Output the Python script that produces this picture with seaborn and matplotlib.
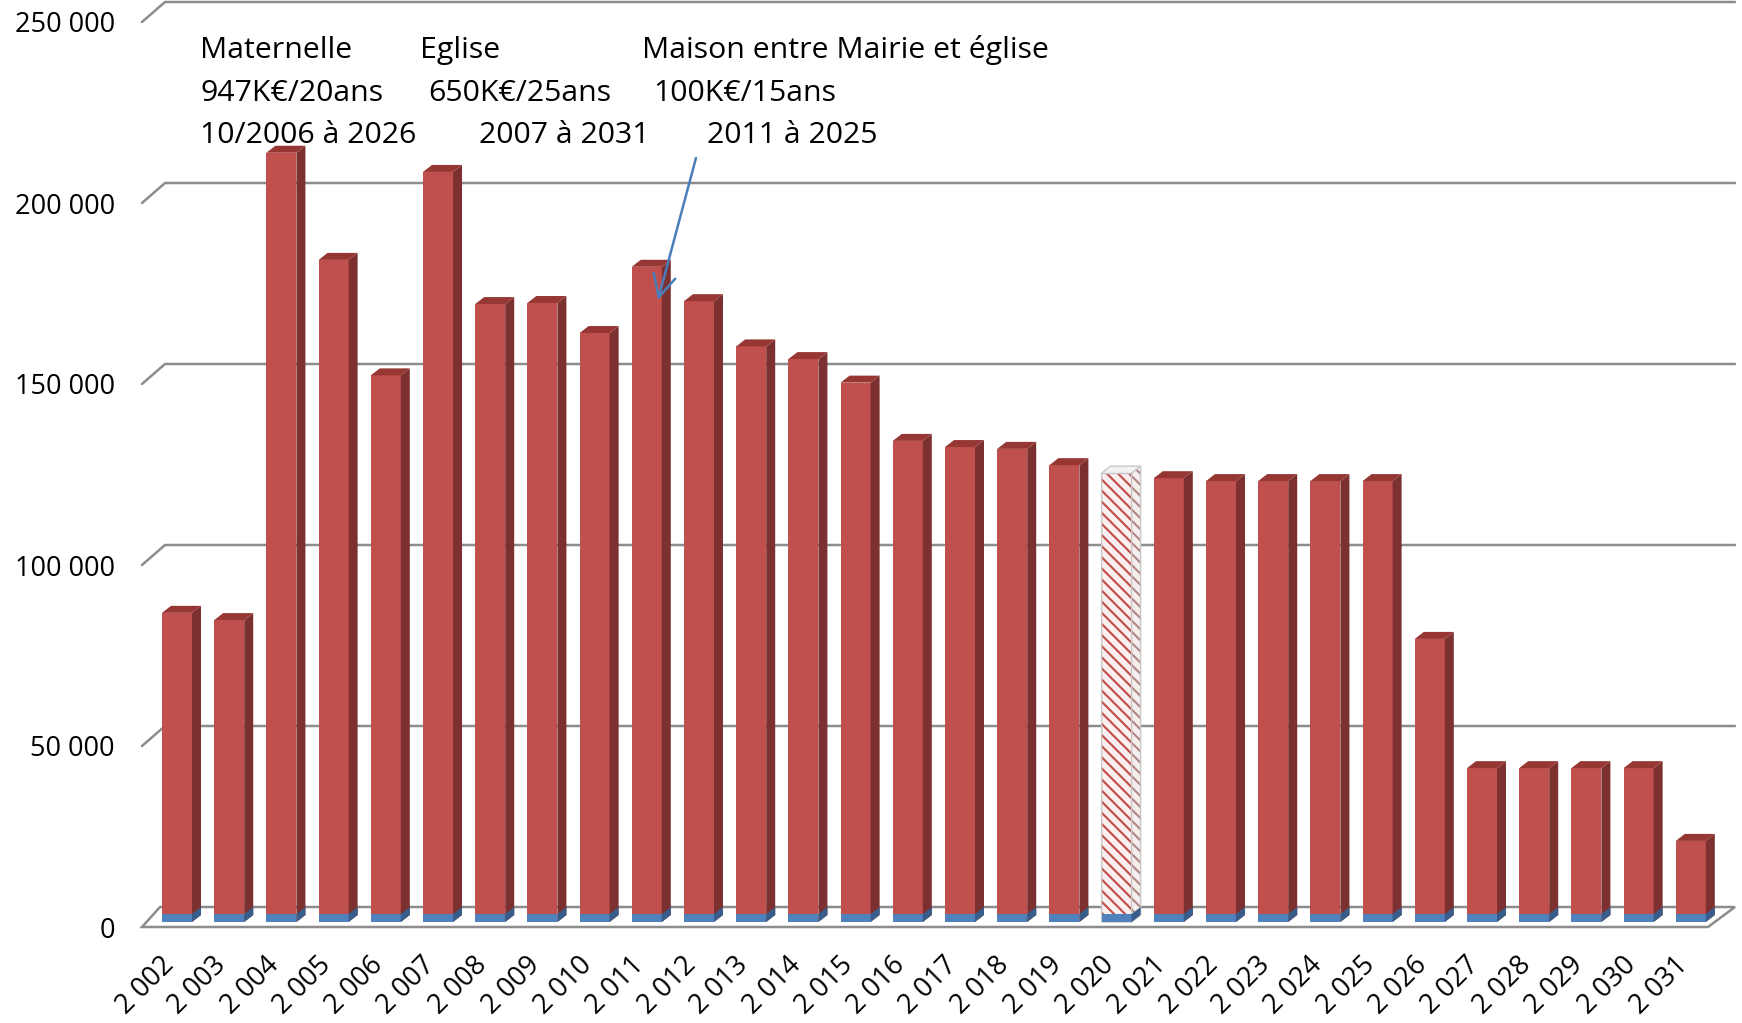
import matplotlib
matplotlib.use("Agg")
import matplotlib.pyplot as plt
import seaborn as sns
import pandas as pd
from matplotlib.patches import Polygon
from matplotlib.lines import Line2D
from matplotlib.transforms import IdentityTransform, ScaledTranslation

# ---------------- data ----------------
year_labels = ["2 002", "2 003", "2 004", "2 005", "2 006", "2 007", "2 008", "2 009", "2 010", "2 011",
               "2 012", "2 013", "2 014", "2 015", "2 016", "2 017", "2 018", "2 019", "2 020", "2 021",
               "2 022", "2 023", "2 024", "2 025", "2 026", "2 027", "2 028", "2 029", "2 030", "2 031"]
total_values = [85400, 83400, 212500, 182900, 151000, 207200, 170700, 171000, 162700, 181000,
                171500, 159000, 155500, 149000, 132900, 131200, 130700, 126200, 124000, 122600,
                121800, 121800, 121800, 121800, 78200, 42500, 42500, 42500, 42500, 22400]
base_values = [2200, 2200, 2200, 2200, 2200, 2200, 2200, 2200, 2200, 2200,
               2200, 2200, 2200, 2200, 2200, 2200, 2200, 2200, 2200, 2200,
               2200, 2200, 2200, 2200, 2200, 2200, 2200, 2200, 2200, 2200]
highlight_label = "2 020"
y_ticks = [0, 50000, 100000, 150000, 200000, 250000]
y_tick_labels = ["0", "50 000", "100 000", "150 000", "200 000", "250 000"]

note_line1 = ["Maternelle", "Eglise", "Maison entre Mairie et église"]
note_line2 = ["947K€/20ans", "650K€/25ans", "100K€/15ans"]
note_line3 = ["10/2006 à 2026", "2007 à 2031", "2011 à 2025"]

# ---------------- style ----------------
RED = "#C0504D"
RED_SIDE = "#7D3030"
RED_TOP = "#963734"
BLUE = "#4F81BD"
BLUE_SIDE = "#385D8A"
GRID = "#8C8C8C"

sns.set_theme(style="white")
plt.rcParams["font.family"] = ["Open Sans", "DejaVu Sans"]
plt.rcParams["hatch.linewidth"] = 1.5

W, H = 1742, 1023
fig = plt.figure(figsize=(W / 100, H / 100), dpi=100)
fig.patch.set_facecolor("white")

L, R, B, T = 130, 1742, 922, 17
ax = fig.add_axes([L / W, (H - B) / H, (R - L) / W, (B - T) / H])
ax.set_facecolor("none")

df = pd.DataFrame({"year": year_labels, "total": total_values, "base": base_values})
sns.barplot(data=df, x="year", y="total", color=RED, saturation=1, width=0.575,
            errorbar=None, linewidth=0, ax=ax, zorder=2)
sns.barplot(data=df, x="year", y="base", color=BLUE, saturation=1, width=0.575,
            errorbar=None, linewidth=0, ax=ax, zorder=3)

step = 52.2
first_center = 177
ax.set_xlim((L - first_center) / step, (R - first_center) / step)
ax.set_ylim(0, 250000)
for s in ax.spines.values():
    s.set_visible(False)
ax.set_xlabel("")
ax.set_ylabel("")

n = len(year_labels)
red_bars = list(ax.patches[:n])
blue_bars = list(ax.patches[n:2 * n])
hi = year_labels.index(highlight_label)

# ---------------- ticks ----------------
ax.set_yticks(y_ticks)
ax.set_yticklabels(y_tick_labels)
ax.tick_params(axis="y", length=0, pad=10.8, labelsize=19.5, labelcolor="black")
for lab in ax.get_yticklabels():
    lab.set_transform(lab.get_transform() + ScaledTranslation(0, -5 / 100, fig.dpi_scale_trans))

ax.set_xticks(range(n))
ax.set_xticklabels(year_labels, rotation=45, ha="right", va="top")
ax.tick_params(axis="x", length=0, pad=21, labelsize=19.5, labelcolor="black")
for lab in ax.get_xticklabels():
    lab.set_transform(lab.get_transform() + ScaledTranslation(3 / 100, 0, fig.dpi_scale_trans))

# ---------------- back wall, gridlines, floor ----------------
def disp_y(v):
    return ax.transData.transform((0, v))[1]

BACK_DY = 15
FRONT_DY = -5
for v in y_ticks:
    yb = disp_y(v) + BACK_DY
    yf = disp_y(v) + FRONT_DY
    if v == 0:
        floor = Polygon([(142, yf), (1708, yf), (1735, yb), (160, yb)], closed=True,
                        facecolor="white", edgecolor=GRID, lw=1.8,
                        transform=IdentityTransform(), zorder=0.5, clip_on=False)
        ax.add_artist(floor)
    else:
        ax.add_artist(Line2D([142, 165, 1735], [yf, yb, yb], color=GRID, lw=1.8,
                             transform=IdentityTransform(), zorder=0.5, clip_on=False))

# ---------------- 3D faces ----------------
DX, DY = 9, 7

def faces(p, side_c, top_c, z, top=True, hatch=None, edge="none"):
    x0, y0 = ax.transData.transform((p.get_x(), p.get_y()))
    x1, y1 = ax.transData.transform((p.get_x() + p.get_width(), p.get_y() + p.get_height()))
    side = Polygon([(x1, y0), (x1 + DX, y0 + DY), (x1 + DX, y1 + DY), (x1, y1)], closed=True,
                   facecolor=side_c, edgecolor=edge, lw=0, hatch=hatch,
                   transform=IdentityTransform(), zorder=z, clip_on=False)
    ax.add_artist(side)
    if top:
        tp = Polygon([(x0, y1), (x1, y1), (x1 + DX, y1 + DY), (x0 + DX, y1 + DY)], closed=True,
                     facecolor=top_c, edgecolor="none", lw=0,
                     transform=IdentityTransform(), zorder=z, clip_on=False)
        ax.add_artist(tp)
    return x0, y0, x1, y1

for i, p in enumerate(red_bars):
    if i == hi:
        p.set_facecolor("#FAEEEE")
        p.set_edgecolor("#C04C49")
        p.set_hatch("\\\\\\")
        p.set_linewidth(0)
        x0, y0, x1, y1 = faces(p, "#F4EEEE", "#F2F2F2", 2.1, hatch="\\\\\\", edge="#B08584")
        outline = Polygon([(x0, y0), (x0, y1), (x0 + DX, y1 + DY), (x1 + DX, y1 + DY),
                           (x1 + DX, y0 + DY), (x1, y0)], closed=True, facecolor="none",
                          edgecolor="#C8C8C8", lw=1.0, transform=IdentityTransform(),
                          zorder=2.2, clip_on=False)
        ax.add_artist(outline)
        ax.add_artist(Line2D([x1, x1, x1 + DX], [y0, y1, y1 + DY], color="#C8C8C8", lw=1.0,
                             transform=IdentityTransform(), zorder=2.2, clip_on=False))
        ax.add_artist(Line2D([x0, x1], [y1, y1], color="#C8C8C8", lw=1.0,
                             transform=IdentityTransform(), zorder=2.2, clip_on=False))
    else:
        faces(p, RED_SIDE, RED_TOP, 2.1)

for p in blue_bars:
    faces(p, BLUE_SIDE, BLUE, 3.1, top=False)

# ---------------- notes ----------------
xs_line1 = [200, 420, 642]
xs_line2 = [200, 428, 653]
xs_line3 = [200, 479, 707]
for xs, texts, base in [(xs_line1, note_line1, 58), (xs_line2, note_line2, 101), (xs_line3, note_line3, 143)]:
    for x, s in zip(xs, texts):
        fig.text(x / W, 1 - base / H, s, fontsize=21.8, ha="left", va="baseline", color="black")

ax.annotate("", xy=(658, H - 300), xytext=(696, H - 158), xycoords="figure pixels",
            textcoords="figure pixels",
            arrowprops=dict(arrowstyle="->, head_length=0.4, head_width=0.2", color="#4A7EBB",
                            lw=1.8, mutation_scale=40, shrinkA=0, shrinkB=0),
            zorder=10, annotation_clip=False)

fig.savefig("out.png", dpi=100, facecolor="white")
